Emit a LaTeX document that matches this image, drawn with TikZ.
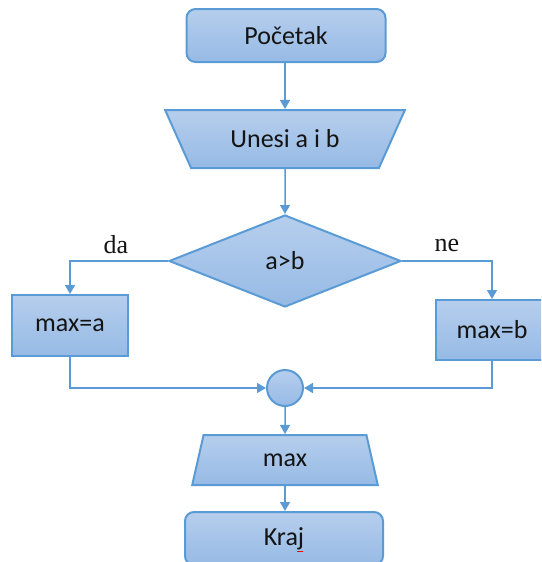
\documentclass[tikz,border=0pt]{standalone}
\usepackage{fontspec}
\setmainfont{Carlito}
\newfontfamily\serifda{Liberation Serif}
\usetikzlibrary{shapes.geometric,arrows.meta}
\definecolor{edgeblue}{RGB}{91,155,213}
\definecolor{filltop}{RGB}{182,206,237}
\definecolor{fillbot}{RGB}{150,186,229}
\definecolor{txt}{RGB}{20,20,20}
\begin{document}
\begin{tikzpicture}[x=1pt,y=-1pt,
  box/.style={draw=edgeblue, line width=2pt, top color=filltop, bottom color=fillbot,
              font=\fontsize{26}{30}\selectfont, text=txt, inner sep=0pt},
  term/.style={box, rectangle, rounded corners=9pt, minimum width=199pt, minimum height=53pt},
  proc/.style={box, rectangle, minimum width=116pt, minimum height=61pt},
  io/.style={box, trapezium, trapezium stretches=true},
  dec/.style={box, diamond, minimum width=232pt, minimum height=92pt, shape aspect=2.52},
  joinc/.style={box, circle, minimum size=36pt},
  conn/.style={draw=edgeblue, line width=1.5pt, -{Triangle[width=10pt,length=9pt]}},
  lbl/.style={font=\serifda\fontsize{26}{30}\selectfont, text=txt, inner sep=0pt}
]
\useasboundingbox (0,0) rectangle (541,562);
\clip (0,0) rectangle (541,562);

\node[term] (start) at (286,35.5) {Početak};
\node[io, minimum width=240pt, minimum height=58pt,
      trapezium left angle=129.6, trapezium right angle=129.6] (input) at (285,139) {Unesi a i b};
\node[dec] (cond) at (285,261) {a>b};
\node[proc] (maxa) at (70,325.5) {max=a};
\node[proc, minimum width=112pt, minimum height=60pt] (maxb) at (492,330) {max=b};
\node[joinc] (join) at (285,388) {};
\node[io, minimum width=186pt, minimum height=50pt,
      trapezium left angle=76.5, trapezium right angle=76.5] (out) at (285,460) {max};
\node[term, minimum width=198pt] (end) at (284,538.5) {Kraj};

\node[lbl] (da) at (116,245) {da};
\node[lbl] (ne) at (447,245) {ne};

\draw[conn] (start.south -| input.north) -- (input.north);
\draw[conn] (input.south) -- (cond.north);
\draw[conn] (cond.west) -| (maxa.north);
\draw[conn] (cond.east) -| (maxb.north);
\draw[conn] (maxa.south) |- (join.west);
\draw[conn] (maxb.south) |- (join.east);
\draw[conn] (join.south) -- (out.north);
\draw[conn] (out.south) -- (end.north -| out.south);

\draw[red, line width=1pt] (297,551) -- (303,551);
\end{tikzpicture}
\end{document}
